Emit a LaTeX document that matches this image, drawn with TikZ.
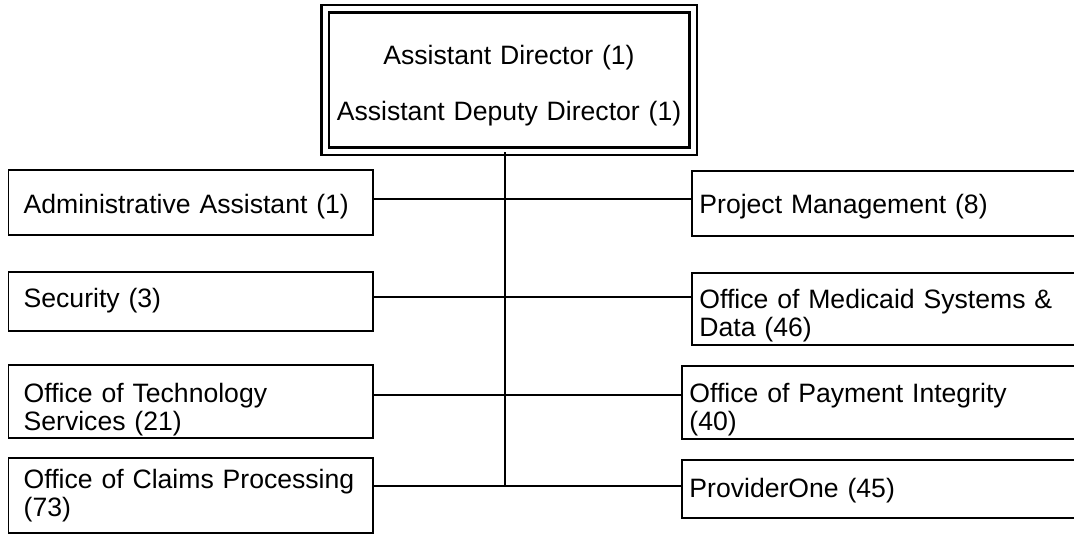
\documentclass[tikz,border=0pt]{standalone}
\usepackage{fontspec}
\setmainfont{Liberation Sans}

\tikzset{
  chartfont/.style={font=\fontsize{26.6}{28}\selectfont},
  topbox/.style={draw, double, line width=2.5pt, double distance=5pt,
    chartfont, align=center, text width=368pt, inner xsep=0pt, inner ysep=0pt, anchor=base},
  leftunit/.style={draw, line width=1.8pt, chartfont, align=left,
    text width=334pt, inner xsep=15.25pt, inner ysep=0pt, anchor=base west},
  rightunit/.style={draw, line width=1.8pt, chartfont, align=left,
    text width=385pt, inner xsep=7.5pt, inner ysep=0pt, anchor=base west},
  link/.style={line width=1.6pt}
}

\begin{document}
\begin{tikzpicture}[x=1pt, y=-1pt]

% Page size
\useasboundingbox (0,0) rectangle (1074,535);

% Director box
\node[topbox, text height=56pt, text depth=86pt] (dir) at (509,65)
  {Assistant Director (1)\\[27pt] Assistant Deputy Director (1)};

% Units on the left
\node[leftunit, text height=43pt, text depth=22pt] (admin) at (7.5,213) {Administrative Assistant (1)};
\node[leftunit, text height=35pt, text depth=24pt] (security) at (7.5,307) {Security (3)};
\node[leftunit, text height=37pt, text depth=36pt] (tech) at (7.5,402) {Office of Technology\\ Services (21)};
\node[leftunit, text height=30pt, text depth=45pt] (claims) at (7.5,488) {Office of Claims Processing\\ (73)};

% Units on the right
\node[rightunit, text height=42pt, text depth=23pt] (project) at (691,213) {Project Management (8)};
\node[rightunit, text height=35pt, text depth=37pt] (medicaid) at (691,308) {Office of Medicaid Systems \&\\ Data (46)};
\node[rightunit, text height=36pt, text depth=37pt] (payment) at (681,402) {Office of Payment Integrity\\ (40)};
\node[rightunit, text height=37pt, text depth=21pt] (provider) at (681,497) {ProviderOne (45)};

% Junctions on the trunk
\coordinate (j1) at (505,199);
\coordinate (j2) at (505,297);
\coordinate (j3) at (505,395);
\coordinate (j4) at (505,486);

% Trunk
\draw[line width=1.3pt] (dir.south -| j4) -- (j4);

% Branches
\draw[link] (admin.east |- j1) -- (project.west |- j1);
\draw[link] (security.east |- j2) -- (medicaid.west |- j2);
\draw[link] (tech.east |- j3) -- (payment.west |- j3);
\draw[link] (claims.east |- j4) -- (provider.west |- j4);

\end{tikzpicture}
\end{document}
